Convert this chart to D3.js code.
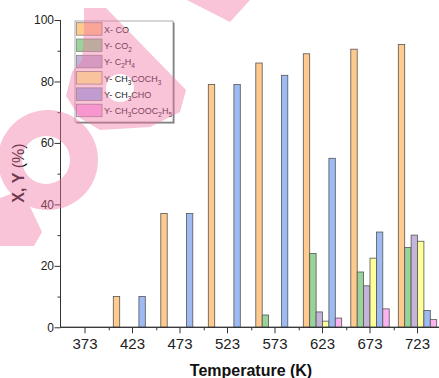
<!DOCTYPE html>
<html>
<head>
<meta charset="utf-8">
<script src="https://cdn.jsdelivr.net/npm/d3@7"></script>
<style>
  body { margin: 0; background: #fff; }
  svg { display: block; font-family: Arial, 'Liberation Sans', sans-serif; }
</style>
</head>
<body>
<div class="chart"></div>
<script>
// temperatures (K) on the x axis
const temps = ['373', '423', '473', '523', '573', '623', '673', '723'];

// conversion / yield values (%)
const xCO = [0, 10, 37, 79, 86, 89, 90.5, 92];
const yCO2 = [0, 0, 0, 0, 4, 24, 18, 26];
const yC2H4 = [0, 0, 0, 0, 0, 5, 13.5, 30];
const yCH3COCH3 = [0, 0, 0, 0, 0, 2, 22.5, 28];
const yCH3CHO = [0, 10, 37, 79, 82, 55, 31, 5.5];
const yCH3COOC2H5 = [0, 0, 0, 0, 0, 3, 6, 2.5];

const seriesLabels = ['X- CO', 'Y- CO2', 'Y- C2H4', 'Y- CH3COCH3', 'Y- CH3CHO', 'Y- CH3COOC2H5'];
const yTicks = [0, 20, 40, 60, 80, 100];

const colors = ['#ffca8e', '#99d39a', '#c4b4d9', '#ffff99', '#9dbaf2', '#fdb2f0'];
const seriesValues = [xCO, yCO2, yC2H4, yCH3COCH3, yCH3CHO, yCH3COOC2H5];

const width = 439, height = 378;
const svg = d3.select('.chart').append('svg')
  .attr('width', width).attr('height', height);

const x = d3.scaleBand().domain(temps).range([61.25, 441.25]).padding(0);
const xs = d3.scaleBand().domain(d3.range(6)).range([4.55, x.bandwidth() - 4.55]).padding(0);
const y = d3.scaleLinear().domain([0, 100]).range([327.3, 20]);

// bars
const rows = [];
temps.forEach((t, i) => {
  seriesValues.forEach((vals, s) => {
    if (vals[i] > 0) rows.push({t: t, s: s, v: vals[i]});
  });
});

svg.append('g').selectAll('rect')
  .data(rows)
  .enter()
  .append('rect')
  .attr('x', d => x(d.t) + xs(d.s))
  .attr('y', d => y(d.v))
  .attr('width', xs.bandwidth())
  .attr('height', d => y(0) - y(d.v))
  .style('fill', d => colors[d.s])
  .style('stroke', '#555')
  .style('stroke-width', 0.8);

// y axis
const yAxis = svg.append('g').attr('transform', 'translate(60.5,0)');
yAxis.call(d3.axisLeft(y).tickValues(yTicks).tickSize(6).tickSizeOuter(0));
yAxis.append('g').call(d3.axisLeft(y).tickValues(d3.range(10, 100, 20)).tickSize(3).tickFormat(''));
yAxis.selectAll('path, line').style('stroke', '#333');
yAxis.selectAll('text').style('font-size', '12px').style('fill', '#222')
  .style('font-family', 'Arial, sans-serif').attr('x', -6.5);
yAxis.selectAll('.domain').attr('d', 'M0,' + y(100) + 'V' + y(0));

// x axis
const xAxis = svg.append('g').attr('transform', 'translate(0,' + y(0) + ')');
xAxis.call(d3.axisBottom(x).tickSize(6).tickSizeOuter(0));
xAxis.append('g').call(
  d3.axisBottom(d3.scaleLinear().domain([0, 8]).range([61.25, 441.25]))
    .tickValues(d3.range(1, 8)).tickSize(3).tickFormat(''));
xAxis.selectAll('path, line').style('stroke', '#333');
xAxis.selectAll('.domain').attr('d', 'M60.5,0H439');
xAxis.selectAll('text').style('font-size', '15px').style('fill', '#222')
  .style('font-family', 'Arial, sans-serif').attr('y', 11);

// axis titles
svg.append('text')
  .attr('x', 251).attr('y', 376)
  .attr('text-anchor', 'middle')
  .style('font-size', '16px').style('font-weight', 'bold').style('fill', '#111')
  .text('Temperature (K)');

const yt = svg.append('text')
  .attr('transform', 'translate(24,173) rotate(-90)')
  .attr('text-anchor', 'middle')
  .style('font-size', '16px').style('fill', '#111');
yt.append('tspan').style('font-weight', 'bold').text('X, Y');
yt.append('tspan').text(' (%)');

// legend
const lg = svg.append('g');
lg.append('rect').attr('x', 76.5).attr('y', 22.5).attr('width', 98).attr('height', 101)
  .style('fill', '#777');
lg.append('rect').attr('x', 75).attr('y', 21).attr('width', 98).attr('height', 101)
  .style('fill', '#fff').style('stroke', '#999').style('stroke-width', 0.8);

seriesLabels.forEach((lab, i) => {
  const ry = 22.7 + i * 16.3;
  lg.append('rect').attr('x', 76.5).attr('y', ry).attr('width', 25.5).attr('height', 12.5)
    .style('fill', colors[i]).style('stroke', '#888').style('stroke-width', 0.8);
  const t = lg.append('text').attr('x', 104).attr('y', ry + 10)
    .style('font-size', '9px').style('fill', '#222');
  let sub = false;
  lab.split(/(\d+)/).filter(p => p !== '').forEach(p => {
    if (/^\d+$/.test(p)) {
      t.append('tspan').attr('dy', 3).style('font-size', '6.5px').text(p);
      sub = true;
    } else {
      t.append('tspan').attr('dy', sub ? -3 : 0).text(p);
      sub = false;
    }
  });
});

// pink watermark overlay
const circ = (cx, cy, r) => 'M' + (cx - r) + ',' + cy + 'a' + r + ',' + r + ' 0 1,0 ' + (2 * r) + ',0' +
  'a' + r + ',' + r + ' 0 1,0 ' + (-2 * r) + ',0Z';
const wm = svg.append('g').style('opacity', 0.42);
wm.append('path')
  .attr('d', 'M84,8L106,8L186,90L180,112L150,127L100,130L80,118L66,96L72,72L82,60L84,30Z' +
    circ(120, 88, 14))
  .attr('fill-rule', 'evenodd')
  .style('fill', '#f273a4');
wm.append('path')
  .attr('d', circ(48, 160, 50) + circ(46, 160, 24))
  .attr('fill-rule', 'evenodd')
  .style('fill', '#f273a4');
wm.append('path')
  .attr('d', 'M0,198L22,190L42,232L34,246L0,246Z')
  .style('fill', '#f273a4');
wm.append('path')
  .attr('d', 'M187,0L250,0L230,22Z')
  .style('fill', '#f273a4');
</script>
</body>
</html>
